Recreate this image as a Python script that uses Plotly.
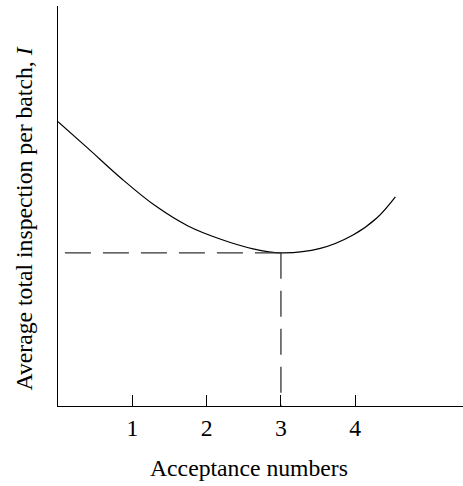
import plotly.graph_objects as go

# Curve (acceptance number c vs. average total inspection I, arbitrary units)
curve_x = [0.0, 0.404, 0.861, 1.306, 1.75, 2.18, 2.625, 3.0, 3.53, 3.97, 4.29, 4.54]
curve_y = [71.1, 64.4, 56.75, 50.1, 45.0, 41.75, 39.3, 38.3, 39.4, 42.75, 47.0, 52.3]

# Optimum point (dashed guide lines)
opt_x = 3.0
opt_y = 38.3

tick_vals = [1, 2, 3, 4]
tick_text = ["1", "2", "3", "4"]

x_title = "Acceptance numbers"
y_title = "Average total inspection per batch, <i>I</i>"

FONT = "Liberation Serif, Times New Roman, serif"
FS = 23.7

fig = go.Figure()

fig.add_trace(go.Scatter(
    x=curve_x, y=curve_y, mode="lines",
    line=dict(color="black", width=1.2, shape="spline", smoothing=1.0),
    hoverinfo="skip", showlegend=False,
))

# horizontal dashed guide, drawn from the optimum toward the y-axis
fig.add_trace(go.Scatter(
    x=[opt_x, 0], y=[opt_y, opt_y], mode="lines",
    line=dict(color="#333333", width=1.3, dash="26px,12px"),
    hoverinfo="skip", showlegend=False,
))
# vertical dashed guide
fig.add_trace(go.Scatter(
    x=[opt_x, opt_x], y=[opt_y, 0], mode="lines",
    line=dict(color="#333333", width=1.3, dash="26px,12px"),
    hoverinfo="skip", showlegend=False,
))

fig.update_layout(
    width=463, height=486,
    margin=dict(l=58, r=0, t=6, b=80),
    paper_bgcolor="white", plot_bgcolor="white",
    font=dict(family=FONT, size=FS, color="black"),
    showlegend=False,
    xaxis=dict(
        range=[0, 5.45], showline=True, linecolor="black", linewidth=1.3,
        ticks="inside", ticklen=11, tickwidth=1.3, tickcolor="black",
        tickvals=tick_vals, ticktext=tick_text,
        showgrid=False, zeroline=False, fixedrange=True,
        tickfont=dict(family=FONT, size=FS, color="black"),
        ticklabelstandoff=0,
    ),
    yaxis=dict(
        range=[0, 100], showline=True, linecolor="black", linewidth=1.3,
        ticks="", showticklabels=False, showgrid=False, zeroline=False,
        fixedrange=True,
    ),
    annotations=[
        dict(text=x_title, xref="paper", yref="paper", x=0.4716, y=-0.155,
             xanchor="center", yanchor="middle", showarrow=False,
             font=dict(family=FONT, size=FS, color="black")),
        dict(text=y_title, xref="paper", yref="paper", x=-0.084, y=0.469,
             xanchor="center", yanchor="middle", showarrow=False, textangle=-90,
             font=dict(family=FONT, size=FS, color="black")),
    ],
)

fig.write_html("out.html", config={"displayModeBar": False},
               post_script="document.body.style.margin='0';")
